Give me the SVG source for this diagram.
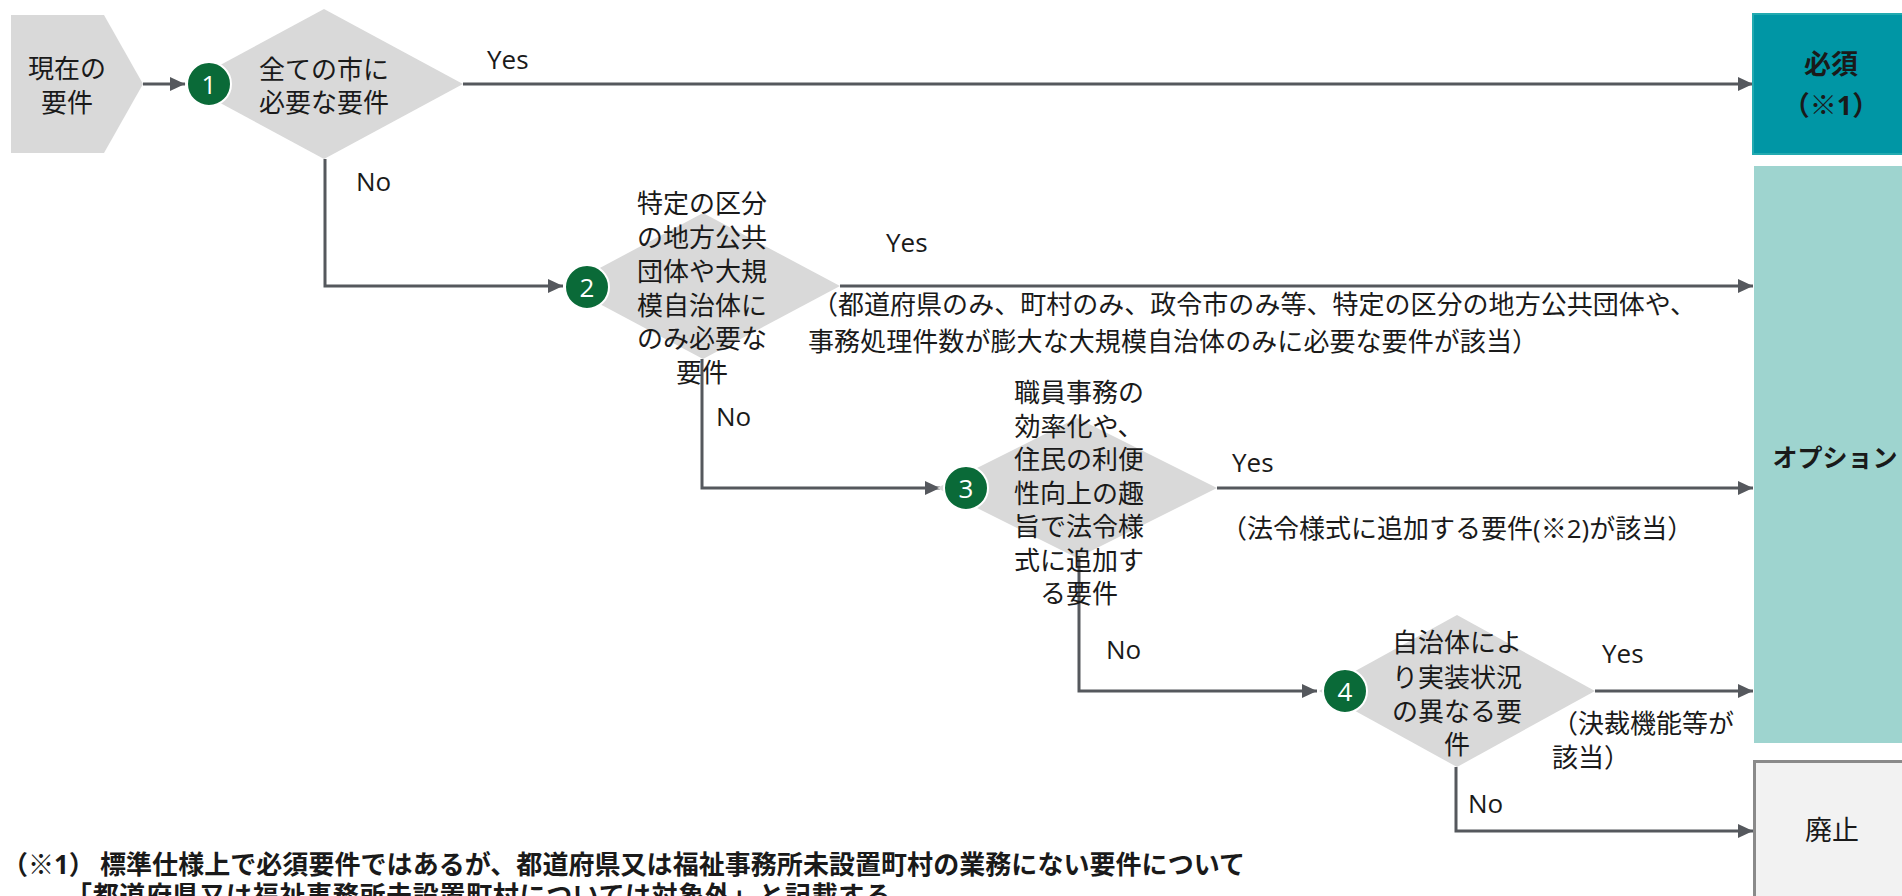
<svg xmlns="http://www.w3.org/2000/svg" width="1902" height="896" viewBox="0 0 1902 896">
<defs>
<style>
.t{font-family:"Open Sans","Noto Sans CJK JP",sans-serif;font-size:26px;fill:#1a1a1a}
.c{text-anchor:middle;dominant-baseline:central}
.m{dominant-baseline:central}
.b{font-weight:bold}
.shape{fill:#D9D9D9}
.num{fill:#0A6A38;stroke:#fff;stroke-width:2}
.numt{font-family:"Open Sans","Noto Sans CJK JP",sans-serif;font-size:26px;fill:#fff;text-anchor:middle;dominant-baseline:central}
.ln{fill:none;stroke:#55585D;stroke-width:3;marker-end:url(#ah)}
</style>
<marker id="ah" markerUnits="userSpaceOnUse" markerWidth="16" markerHeight="16" viewBox="0 0 16 16" refX="15" refY="8" orient="auto">
<path d="M0,1 L15,8 L0,15 Z" fill="#55585D"/>
</marker>
</defs>
<rect width="1902" height="896" fill="#fff"/>

<g id="connectors">
<path class="ln" d="M143,84 H185"/>
<path class="ln" d="M463,84 H1753"/>
<path class="ln" d="M325,159 V286 H563"/>
<path class="ln" d="M840,286 H1753"/>
<path class="ln" d="M702,359 V488 H940"/>
<path class="ln" d="M1217,488 H1753"/>
<path class="ln" d="M1079,558 V691 H1317"/>
<path class="ln" d="M1595,691 H1753"/>
<path class="ln" d="M1456,767 V831 H1753"/>
</g>

<g id="start">
<polygon class="shape" points="11,15 104,15 143,84 104,153 11,153"/>
<text class="t c" x="67" y="68">現在の</text>
<text class="t c" x="67" y="102">要件</text>
</g>

<g id="q1">
<polygon class="shape" points="324,9 463,84 324,159 185,84"/>
<circle class="num" cx="209" cy="84" r="22"/>
<text class="numt" x="209" y="84">1</text>
<text class="t c" x="324" y="69">全ての市に</text>
<text class="t c" x="324" y="102">必要な要件</text>
</g>

<g id="q2">
<polygon class="shape" points="703,213 840,286 703,359 566,286"/>
<circle class="num" cx="587" cy="287" r="22"/>
<text class="numt" x="587" y="287">2</text>
<text class="t c" x="702" y="203">特定の区分</text>
<text class="t c" x="702" y="237">の地方公共</text>
<text class="t c" x="702" y="271">団体や大規</text>
<text class="t c" x="702" y="305">模自治体に</text>
<text class="t c" x="702" y="338">のみ必要な</text>
<text class="t c" x="702" y="372">要件</text>
</g>

<g id="q3">
<polygon class="shape" points="1077,418 1217,488 1077,558 937,488"/>
<circle class="num" cx="966" cy="488" r="22"/>
<text class="numt" x="966" y="488">3</text>
<text class="t c" x="1079" y="392">職員事務の</text>
<text class="t c" x="1079" y="426">効率化や、</text>
<text class="t c" x="1079" y="459">住民の利便</text>
<text class="t c" x="1079" y="493">性向上の趣</text>
<text class="t c" x="1079" y="526">旨で法令様</text>
<text class="t c" x="1079" y="560">式に追加す</text>
<text class="t c" x="1079" y="593">る要件</text>
</g>

<g id="q4">
<polygon class="shape" points="1457,615 1595,691 1457,767 1319,691"/>
<circle class="num" cx="1345" cy="691" r="22"/>
<text class="numt" x="1345" y="691">4</text>
<text class="t c" x="1457" y="642">自治体によ</text>
<text class="t c" x="1457" y="677">り実装状況</text>
<text class="t c" x="1457" y="711">の異なる要</text>
<text class="t c" x="1457" y="744">件</text>
</g>

<g id="labels">
<text class="t" x="487" y="69">Yes</text>
<text class="t" x="356" y="191">No</text>
<text class="t" x="886" y="252">Yes</text>
<text class="t m" x="812" y="304" textLength="884">（都道府県のみ、町村のみ、政令市のみ等、特定の区分の地方公共団体や、</text>
<text class="t m" x="808" y="341" textLength="730">事務処理件数が膨大な大規模自治体のみに必要な要件が該当）</text>
<text class="t" x="716" y="426">No</text>
<text class="t" x="1232" y="472">Yes</text>
<text class="t m" x="1221" y="528">（法令様式に追加する要件(※2)が該当）</text>
<text class="t" x="1106" y="659">No</text>
<text class="t" x="1602" y="663">Yes</text>
<text class="t m" x="1552" y="723">（決裁機能等が</text>
<text class="t m" x="1552" y="757">該当）</text>
<text class="t" x="1468" y="813">No</text>
</g>

<g id="must">
<rect x="1753" y="14" width="150" height="140" fill="#0096A5" stroke="#22AAB0" stroke-width="2"/>
<text class="t c b" x="1831" y="63" style="font-size:27px">必須</text>
<text class="t c b" x="1831" y="104" style="font-size:27px">（※1）</text>
</g>

<g id="option">
<rect x="1754" y="166" width="150" height="577" fill="#9ED4CF"/>
<text class="t c b" x="1835" y="457" style="font-size:25px">オプション</text>
</g>

<g id="abolish">
<rect x="1754.5" y="761.5" width="150" height="140" fill="#F2F2F2" stroke="#8A8A8A" stroke-width="3"/>
<text class="t c" x="1832" y="829" style="font-size:27px">廃止</text>
</g>

<g id="footnote">
<text class="t b m" x="2" y="864">（※1）</text>
<text class="t b m" x="100" y="864" textLength="1145">標準仕様上で必須要件ではあるが、都道府県又は福祉事務所未設置町村の業務にない要件について</text>
<text class="t b m" x="66" y="895" textLength="825">「都道府県又は福祉事務所未設置町村については対象外」と記載する</text>
</g>
</svg>
